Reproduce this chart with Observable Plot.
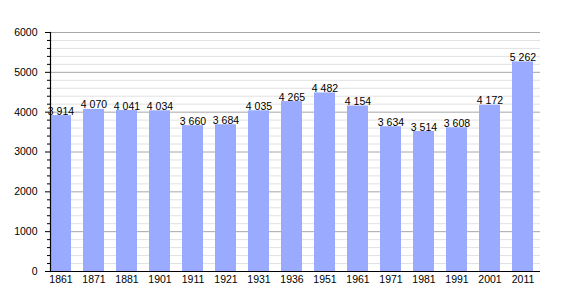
<!DOCTYPE html>
<html>
<head>
<meta charset="utf-8">
<script src="https://cdn.jsdelivr.net/npm/d3@7"></script>
<script src="https://cdn.jsdelivr.net/npm/@observablehq/plot@0.6"></script>
<style>
  html, body { margin: 0; padding: 0; background: #fff; }
  #chart { width: 570px; height: 300px; }
</style>
</head>
<body>
<div id="chart"></div>
<script>
const years = ["1861","1871","1881","1901","1911","1921","1931","1936","1951","1961","1971","1981","1991","2001","2011"];
const population = [3914, 4070, 4041, 4034, 3660, 3684, 4035, 4265, 4482, 4154, 3634, 3514, 3608, 4172, 5262];
const majorTicks = [0, 1000, 2000, 3000, 4000, 5000, 6000];
const minorTicks = d3.range(0, 6001, 200).filter(v => v % 1000 !== 0);

const data = years.map((y, i) => ({year: y, value: population[i]}));
const fmt = v => d3.format(",")(v).replace(",", " ");

const chart = Plot.plot({
  width: 570,
  height: 300,
  marginLeft: 50,
  marginRight: 30,
  marginTop: 32,
  marginBottom: 29,
  style: {fontFamily: "'Liberation Sans', Arial, sans-serif", fontSize: "10.5px", color: "#000", background: "#fff"},
  x: {domain: years, paddingInner: 0.37, paddingOuter: 0, align: 0, label: null},
  y: {domain: [0, 6000], label: null},
  marks: [
    Plot.ruleY(minorTicks, {stroke: "#e2e2e2", strokeWidth: 1}),
    Plot.ruleY(majorTicks, {stroke: "#a8a8a8", strokeWidth: 1}),
    Plot.barY(data, {x: "year", y: "value", fill: "#99aaff"}),
    Plot.text(data, {x: "year", y: "value", text: d => fmt(d.value), lineAnchor: "bottom", dy: -1, fill: "#000", fontSize: 10.5}),
    Plot.axisY(minorTicks, {tickSize: 3, tickFormat: () => "", stroke: "#000"}),
    Plot.axisY(majorTicks, {tickSize: 5, tickPadding: 8, tickFormat: d => String(d), stroke: "#000", fill: "#000"}),
    Plot.axisX({tickSize: 0, tickPadding: 4, fill: "#000", label: null}),
    Plot.ruleY([0], {stroke: "#000", strokeWidth: 1.2}),
    Plot.frame({anchor: "left", stroke: "#000", strokeWidth: 1.2})
  ]
});
document.getElementById("chart").appendChild(chart);
</script>
</body>
</html>
